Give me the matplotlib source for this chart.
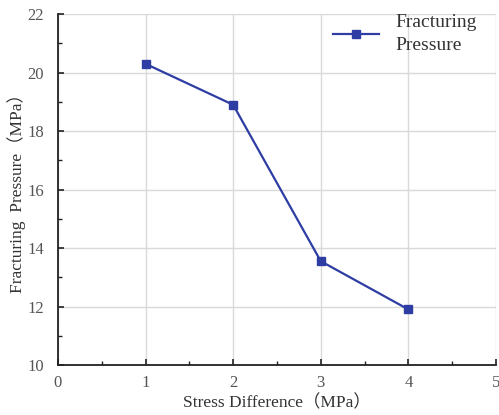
import matplotlib
matplotlib.use("Agg")
import matplotlib.pyplot as plt
from matplotlib.ticker import MultipleLocator

stress_diff = [1, 2, 3, 4]
frac_pressure = [20.3, 18.9, 13.55, 11.9]

fam = ['Liberation Serif', 'Noto Sans CJK SC']
plt.rcParams['font.family'] = fam

fig = plt.figure(figsize=(4.99, 4.15), dpi=100)
ax = fig.add_axes([0.116, 0.1205, 0.878, 0.8455])

ax.plot(stress_diff, frac_pressure, color='#2E3DA3', marker='s', markersize=6,
        linewidth=1.6, label='Fracturing\nPressure', zorder=3)

ax.set_xlim(0, 5)
ax.set_ylim(10, 22)
ax.xaxis.set_major_locator(MultipleLocator(1))
ax.xaxis.set_minor_locator(MultipleLocator(0.5))
ax.yaxis.set_major_locator(MultipleLocator(2))
ax.yaxis.set_minor_locator(MultipleLocator(1))
ax.grid(True, which='major', color='#d9d9d9', linewidth=1.0)
ax.set_axisbelow(True)

for s in ['top', 'right']:
    ax.spines[s].set_visible(False)
for s in ['left', 'bottom']:
    ax.spines[s].set_linewidth(1.3)
    ax.spines[s].set_color('#222222')

ax.tick_params(which='both', direction='in', colors='#222222', labelcolor='#555555', labelsize=12)
ax.tick_params(which='major', length=4, width=1.2)
ax.tick_params(which='minor', length=3, width=1.0)
ax.tick_params(axis='x', which='major', pad=7)
ax.tick_params(axis='y', which='major', pad=10)

ax.set_xlabel('Stress Difference（MPa）', fontsize=12.5, color='#333333', labelpad=3)
ax.set_ylabel('Fracturing  Pressure（MPa）', fontsize=12.5, color='#333333', labelpad=1)

leg = ax.legend(loc='upper right', frameon=False, fontsize=14, handlelength=2.4,
                bbox_to_anchor=(0.995, 1.05), labelcolor='#333333')
for t in leg.get_texts():
    t.set_linespacing(1.45)

fig.savefig('out.png', dpi=100)
